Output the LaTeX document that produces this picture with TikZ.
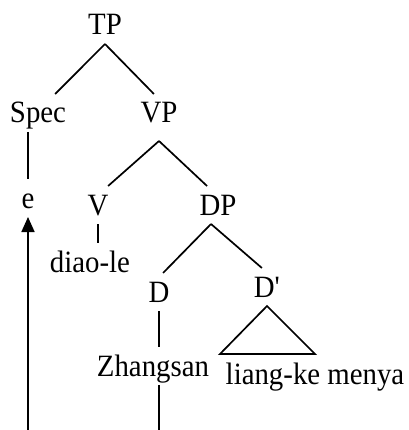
\documentclass[tikz,border=0pt]{standalone}
\usepackage{fontspec}
\setmainfont{Liberation Serif}
\usepackage{tikz}
\usetikzlibrary{calc, arrows.meta, positioning}

\begin{document}
\begin{tikzpicture}[x=1pt, y=-1pt, line width=1.7pt,
  lab/.style={anchor=base, inner sep=0pt, outer xsep=0pt, outer ysep=9pt,
    text height=20pt, text depth=0pt,
    font=\fontsize{31}{36}\selectfont\addfontfeature{FakeStretch=0.93}}]
\useasboundingbox (0,0) rectangle (408,430);
\node[lab] (tp) at (105,35) {TP};
\node[lab] (spec) at (38,123) {Spec};
\node[lab] (vp) at (159,123) {VP};
\node[lab] (e) at (28,208) {e};
\node[lab] (v) at (98,215) {V};
\node[lab] (dp) at (218,215) {DP};
\node[lab] (diaole) at (90,272) {diao-le};
\node[lab] (d) at (159,302) {D};
\node[lab] (dbar) at (267,297) {D\textquotesingle};
\node[lab] (zhangsan) at (153,376) {Zhangsan};
\node[lab] (menya) at (315,384) {liang-ke menya};
\coordinate (efoot) at (28,430);
\coordinate (zfoot) at (159,430);
% tree
\draw (tp.south) -- (spec.48);
\draw (tp.south) -- (vp.105);
\draw (e |- spec.south) -- (e.north);
\draw ([yshift=-9pt]vp.south) -- (v.62);
\draw ([yshift=-9pt]vp.south) -- (dp.120);
\draw (v.south) -- (v.south |- diaole.north);
\draw ([xshift=-7pt]dp.south) -- (d.78);
\draw ([xshift=-7pt]dp.south) -- (dbar.105);
\draw (d.south) -- (d.south |- zhangsan.north);
\draw (dbar.south) -- ++(-47,48) -- ++(95,0) -- cycle;
% movement
\draw (zfoot |- zhangsan.south) -- (zfoot);
\draw[-{Triangle[length=15pt,width=13pt]}] (efoot) -- (e.south);
\end{tikzpicture}
\end{document}
